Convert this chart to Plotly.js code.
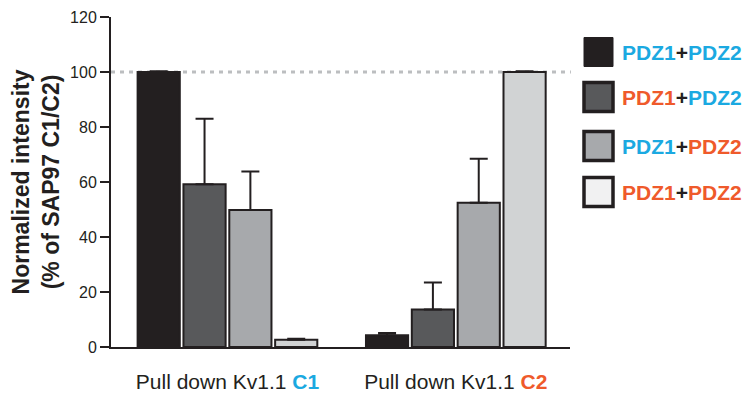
<!DOCTYPE html>
<html>
<head>
<meta charset="utf-8">
<script src="https://cdn.plot.ly/plotly-3.0.1.min.js"></script>
<style>html,body{margin:0;padding:0;background:#fff}#chart{width:751px;height:396px}</style>
</head>
<body>
<div id="chart"></div>
<script>
// ---- data ----
var categories = ['Pull down Kv1.1 C1', 'Pull down Kv1.1 C2'];
var categoryTickText = ['Pull down Kv1.1 <b>C1</b>', 'Pull down Kv1.1 <b>C2</b>'];
var seriesNames = ['PDZ1+PDZ2', 'PDZ1+PDZ2', 'PDZ1+PDZ2', 'PDZ1+PDZ2'];
var seriesPdz1Source = ['C1', 'C2', 'C1', 'C2'];
var seriesPdz2Source = ['C1', 'C1', 'C2', 'C2'];
var valuesS1 = [100, 4.3];
var valuesS2 = [59.2, 13.6];
var valuesS3 = [49.8, 52.5];
var valuesS4 = [2.6, 100];
var errS1 = [0.3, 0.8];
var errS2 = [23.8, 9.9];
var errS3 = [14.0, 16.0];
var errS4 = [0.4, 0.3];
var yTickVals = [0, 20, 40, 60, 80, 100, 120];
var referenceLevel = 100;

// ---- styles ----
var BLUE = '#1ba9e1', ORANGE = '#ef5a2b', INK = '#231f20';
var srcColor = {C1: BLUE, C2: ORANGE};
var barFills = ['#231f20', '#58595b', '#a7a9ac', '#d1d3d4'];
var legendFills = ['#231f20', '#58595b', '#a7a9ac', '#f1f1f2'];
var FONT = 'Liberation Sans, Arial, Helvetica, sans-serif';

var allValues = [valuesS1, valuesS2, valuesS3, valuesS4];
var allErr = [errS1, errS2, errS3, errS4];

var traces = allValues.map(function (vals, i) {
  return {
    type: 'bar',
    x: categories,
    y: vals,
    name: seriesNames[i],
    showlegend: false,
    marker: {color: barFills[i], line: {color: INK, width: 2}},
    error_y: {
      type: 'data', symmetric: false,
      array: allErr[i], arrayminus: vals.map(function () { return 0; }),
      color: INK, thickness: 2, width: 9
    },
    hoverinfo: 'y'
  };
});

var ticktext = categoryTickText.map(function (t, i) {
  var c = i === 0 ? BLUE : ORANGE;
  return t.replace(/<b>(C\d)<\/b>/, '<b><span style="color:' + c + '">$1</span></b>');
});

// legend (drawn with shapes + annotations to match the reference's large swatches)
var legendRowsPx = [52, 97, 146, 192];
var H = 396, W = 751;
var shapes = [{
  type: 'line', xref: 'paper', yref: 'y', x0: 0, x1: 1.002, y0: referenceLevel, y1: referenceLevel,
  line: {color: '#bcbec0', width: 3, dash: '4px,5px'}, layer: 'below'
}];
var annotations = [];
legendRowsPx.forEach(function (py, i) {
  var s = 29;
  var x0 = 584, y0 = py - s / 2;
  shapes.push({
    type: 'rect', xref: 'paper', yref: 'paper',
    x0: (x0 - 111) / 459, x1: (x0 + s - 111) / 459,
    y0: (H - 49 - (y0 + s)) / 330, y1: (H - 49 - y0) / 330,
    fillcolor: legendFills[i], line: {color: INK, width: i === 0 ? 1 : 3.5}
  });
  var txt = '<b><span style="color:' + srcColor[seriesPdz1Source[i]] + '">PDZ1</span>' +
            '<span style="color:' + INK + '">+</span>' +
            '<span style="color:' + srcColor[seriesPdz2Source[i]] + '">PDZ2</span></b>';
  annotations.push({
    xref: 'paper', yref: 'paper', x: (620 - 111) / 459, y: (H - 49 - py) / 330,
    xanchor: 'left', yanchor: 'middle', showarrow: false, text: txt,
    font: {family: FONT, size: 21}
  });
});

var layout = {
  width: W, height: H,
  margin: {l: 111, r: 181, t: 17, b: 49, pad: 0},
  paper_bgcolor: '#fff', plot_bgcolor: '#fff',
  barmode: 'group', bargap: 0.197, bargroupgap: 0.08,
  font: {family: FONT, color: INK},
  xaxis: {
    type: 'category', range: [-0.51, 1.5],
    showline: true, linecolor: INK, linewidth: 2,
    showgrid: false, zeroline: false,
    ticks: 'outside', ticklen: 15, tickcolor: 'rgba(0,0,0,0)',
    tickvals: categories, ticktext: ticktext,
    tickfont: {family: FONT, size: 21, color: INK}
  },
  yaxis: {
    range: [0, 120], tickvals: yTickVals,
    showline: true, linecolor: INK, linewidth: 2,
    showgrid: false, zeroline: false,
    ticks: 'outside', ticklen: 9, tickwidth: 1.5, tickcolor: INK,
    tickfont: {family: FONT, size: 16, color: INK},
    title: {
      text: '<b>Normalized intensity<br>(% of SAP97 C1/C2)</b>',
      font: {family: FONT, size: 23, color: INK},
      standoff: 4
    }
  },
  shapes: shapes,
  annotations: annotations
};

Plotly.newPlot('chart', traces, layout, {displayModeBar: false, staticPlot: true});
</script>
</body>
</html>
